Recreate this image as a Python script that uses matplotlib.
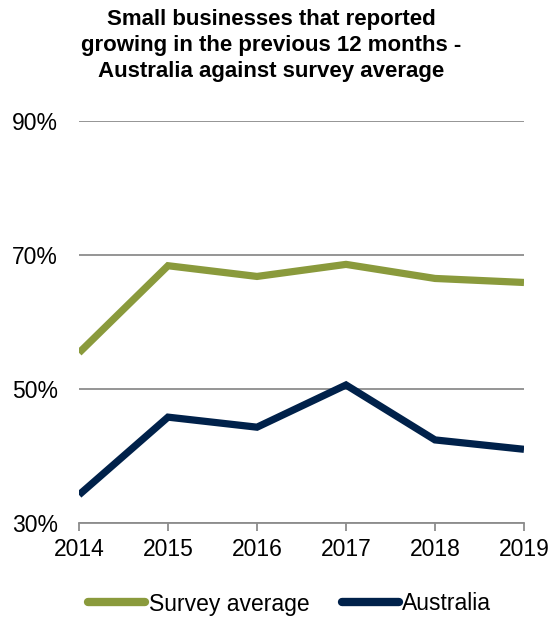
import matplotlib
matplotlib.use("Agg")
import matplotlib.pyplot as plt

years = ["2014", "2015", "2016", "2017", "2018", "2019"]
survey_average = [55.4, 68.4, 66.8, 68.6, 66.5, 65.9]
australia = [34.2, 45.8, 44.3, 50.6, 42.4, 41.0]
yticks = [30, 50, 70, 90]
ytick_labels = ["30%", "50%", "70%", "90%"]

plt.rcParams['font.family'] = ['Liberation Sans', 'DejaVu Sans']

W, H = 554, 617
FS = 16.5
fig = plt.figure(figsize=(W / 100, H / 100), dpi=100)
ax = fig.add_axes([79 / W, (H - 523) / H, (524 - 79) / W, (523 - 121) / H])

x = list(range(len(years)))
ax.plot(x, survey_average, color="#8a9a3c", lw=5.2, solid_capstyle="butt",
        solid_joinstyle="miter", label="Survey average")
ax.plot(x, australia, color="#00214a", lw=5.2, solid_capstyle="butt",
        solid_joinstyle="miter", label="Australia")

ax.set_xlim(0, len(years) - 1)
ax.set_ylim(30, 90)
ax.set_yticks(yticks)
ax.set_yticklabels(ytick_labels, fontsize=FS)
ax.set_xticks(x)
ax.set_xticklabels(years, fontsize=FS)
ax.yaxis.grid(True, color="#8c8c8c", lw=1.3)
ax.set_axisbelow(True)
for s in ["top", "right", "left"]:
    ax.spines[s].set_visible(False)
ax.spines["bottom"].set_color("#8c8c8c")
ax.spines["bottom"].set_linewidth(1.3)
ax.tick_params(axis="y", length=0, pad=15)
ax.tick_params(axis="x", length=6, width=1.3, color="#8c8c8c", pad=5, direction="out")

fig.text(0.49, 1 - 9 / H, "Small businesses that reported\ngrowing in the previous 12 months -\nAustralia against survey average",
         ha="center", va="top", fontsize=16, fontweight="bold", linespacing=1.3)

leg = fig.legend(loc="center", bbox_to_anchor=(0.523, 1 - 604 / H), ncol=2, frameon=False,
                 fontsize=FS, handlelength=2.5, handletextpad=0.15, columnspacing=1.4)
for h in leg.legend_handles:
    h.set_linewidth(6)
    h.set_solid_capstyle("round")

fig.savefig("out.png", dpi=100)
